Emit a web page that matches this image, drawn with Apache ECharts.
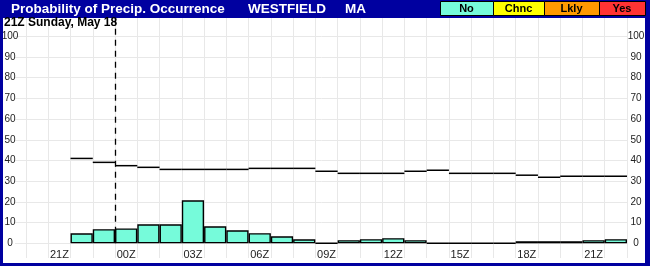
<!DOCTYPE html>
<html><head><meta charset="utf-8">
<script src="https://cdn.jsdelivr.net/npm/echarts@6/dist/echarts.min.js"></script>
<style>html,body{margin:0;padding:0;background:#fff}#c{width:650px;height:266px}</style>
</head><body><div id="c"></div>
<script>
// Hourly categories (Z time)
const hours = ['20Z','21Z','22Z','23Z','00Z','01Z','02Z','03Z','04Z','05Z','06Z','07Z','08Z','09Z','10Z','11Z','12Z','13Z','14Z','15Z','16Z','17Z','18Z','19Z','20Z','21Z','22Z'];
// Hourly probability of precip occurrence (bars)
const popHourly = [null,null,4.8,6.8,7.2,9.2,9.2,20.8,8.2,6.3,4.9,3.4,1.9,0,1.5,2,2.5,1.5,0,0,0,0,1,1,1,1.5,2];
// Step-line values (horizontal segments)
const popLine = [null,null,41,39.1,37.5,36.7,35.7,35.7,35.7,35.7,36.2,36.2,36.2,34.8,33.8,33.8,33.8,34.8,35.3,33.8,33.8,33.8,32.9,31.9,32.4,32.4,32.4];
const yTicks = [0,10,20,30,40,50,60,70,80,90,100];
const markerIndex = 4;   // 00Z boundary
const markerTop = 109;
const titleText = 'Probability of Precip. Occurrence';
const place = 'WESTFIELD';
const state = 'MA';
const subTitle = '21Z Sunday, May 18';
const legendNames = ['No','Chnc','Lkly','Yes'];
const legendColors = ['#76FBDA','#FFFF00','#FF9900','#FF3333'];

const chart = echarts.init(document.getElementById('c'), null, {renderer:'canvas'});
const FONT = 'Liberation Sans, Arial, sans-serif';
const BLUE = '#0000A0';
const legendX = [440,493,544,599,645];

const graphics = [
  {type:'rect', shape:{x:0,y:0,width:650,height:18}, style:{fill:BLUE}, z:10},
  {type:'rect', shape:{x:0,y:0,width:3,height:266}, style:{fill:BLUE}, z:10},
  {type:'rect', shape:{x:645,y:0,width:5,height:266}, style:{fill:BLUE}, z:10},
  {type:'rect', shape:{x:0,y:263,width:650,height:3}, style:{fill:BLUE}, z:10},
  {type:'text', x:11, y:9.5, style:{text:titleText, fill:'#fff', font:'bold 13.5px '+FONT, textVerticalAlign:'middle'}, z:11},
  {type:'text', x:248, y:9.5, style:{text:place, fill:'#fff', font:'bold 13.5px '+FONT, textVerticalAlign:'middle'}, z:11},
  {type:'text', x:345, y:9.5, style:{text:state, fill:'#fff', font:'bold 13.5px '+FONT, textVerticalAlign:'middle'}, z:11},
  {type:'text', x:4, y:22.5, style:{text:subTitle, fill:'#000', font:'bold 12px '+FONT, textVerticalAlign:'middle'}, z:11}
];
legendNames.forEach((n,i)=>{
  graphics.push({type:'rect', shape:{x:legendX[i]+0.5,y:1.5,width:legendX[i+1]-legendX[i],height:14}, style:{fill:legendColors[i], stroke:'#000', lineWidth:1}, z:11});
  graphics.push({type:'text', x:(legendX[i]+legendX[i+1])/2, y:9, style:{text:n, fill:'#000', font:'bold 11px '+FONT, textAlign:'center', textVerticalAlign:'middle'}, z:12});
});

const option = {
  animation:false,
  backgroundColor:'#fff',
  grid:[
    {left:15, right:22, top:36.3, bottom:22.7, outerBoundsMode:'none'},
    {left:26, right:23, top:18, bottom:8, outerBoundsMode:'none'},
    {left:26, right:23, top:36.3, bottom:22.7, outerBoundsMode:'none'}
  ],
  xAxis:[
    {gridIndex:0, type:'value', min:0, max:1, show:false},
    {gridIndex:1, type:'category', data:hours, boundaryGap:true, axisLine:{show:false}, axisTick:{show:false}, axisLabel:{show:false},
      splitLine:{show:true, interval:0, lineStyle:{color:'#E8E8E8', width:1}}},
    {gridIndex:2, type:'category', data:hours, boundaryGap:true, axisLine:{show:false}, axisTick:{show:false}, splitLine:{show:false},
      axisLabel:{interval:(i)=>i%3===1, color:'#222', fontSize:11, fontFamily:FONT, margin:6}}
  ],
  yAxis:[
    {gridIndex:0, type:'value', min:yTicks[0], max:yTicks[yTicks.length-1], interval:yTicks[1]-yTicks[0], position:'left',
      axisLine:{show:false}, axisTick:{show:false}, splitLine:{show:true, lineStyle:{color:'#E8E8E8', width:1}},
      axisLabel:{color:'#222', fontSize:10, fontFamily:FONT, align:'center', margin:5}},
    {gridIndex:0, type:'value', min:yTicks[0], max:yTicks[yTicks.length-1], interval:yTicks[1]-yTicks[0], position:'right',
      axisLine:{show:false}, axisTick:{show:false}, splitLine:{show:false},
      axisLabel:{color:'#222', fontSize:10, fontFamily:FONT, align:'center', margin:8}},
    {gridIndex:1, type:'value', min:0, max:1, show:false},
    {gridIndex:2, type:'value', min:0, max:100, show:false}
  ],
  series:[
    {type:'custom', xAxisIndex:2, yAxisIndex:3, clip:false, z:2,
      data:[[markerIndex, markerTop]],
      renderItem:(params, api)=>{
        const top = api.coord([api.value(0), api.value(1)]);
        const bot = api.coord([api.value(0), 0]);
        const w = api.size([1,0])[0];
        const x = Math.round(top[0]-w/2)+0.5;
        return {type:'line', shape:{x1:x, y1:top[1], x2:x, y2:bot[1]}, style:{stroke:'#000', lineWidth:1.3, lineDash:[6,5]}};
      }},
    {type:'bar', xAxisIndex:2, yAxisIndex:3, data:popHourly, barWidth:'100%', z:3,
      itemStyle:{color:legendColors[0], borderColor:'#000', borderWidth:1.4}},
    {type:'custom', xAxisIndex:2, yAxisIndex:3, z:4,
      data:popLine.map((v,i)=>[i,v]).filter(d=>d[1]!==null),
      renderItem:(params, api)=>{
        const c = api.coord([api.value(0), api.value(1)]);
        const w = api.size([1,0])[0];
        return {type:'line', shape:{x1:c[0]-w/2, y1:c[1], x2:c[0]+w/2, y2:c[1]}, style:{stroke:'#000', lineWidth:1.5}};
      }}
  ],
  graphic:graphics
};
chart.setOption(option);
</script>
</body></html>
